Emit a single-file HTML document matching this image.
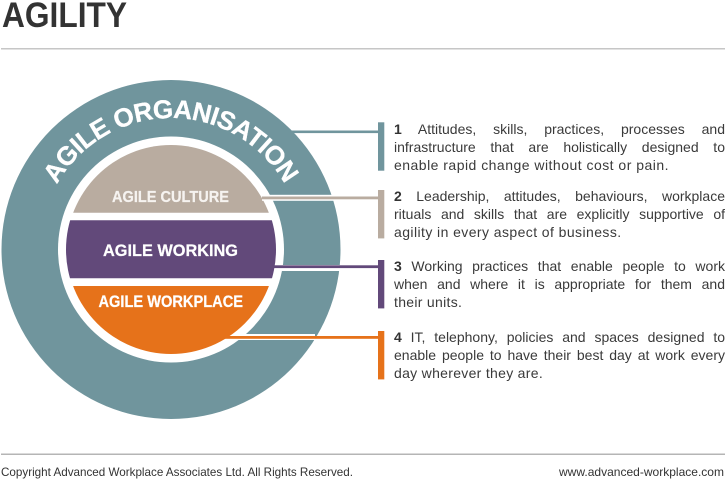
<!DOCTYPE html>
<html><head><meta charset="utf-8"><style>
html,body{margin:0;padding:0;background:#fff;width:725px;height:480px;overflow:hidden}
body{position:relative;font-family:"Liberation Sans",sans-serif}
svg{position:absolute;left:0;top:0}
.l{position:absolute;left:394px;width:331px;height:18px;line-height:18px;font-size:14px;color:#3a3a3a;white-space:nowrap}
.j{text-align:justify;text-align-last:justify;white-space:normal}
b{color:#333}
</style></head><body>
<svg width="725" height="480" viewBox="0 0 725 480" xmlns="http://www.w3.org/2000/svg" font-family="Liberation Sans, sans-serif">
<text x="2" y="27" font-size="35" font-weight="bold" fill="#333" textLength="125" lengthAdjust="spacingAndGlyphs">AGILITY</text>
<rect x="1" y="48" width="724" height="1.5" fill="#c6c6c6"/>
<rect x="1" y="453.5" width="724" height="1.5" fill="#b5b5b5"/>
<circle cx="171" cy="249.5" r="169.5" fill="#70959d"/>
<circle cx="171" cy="249.5" r="113" fill="#fff"/>
<defs>
<clipPath id="a"><rect x="50" y="140" width="240" height="72.7"/></clipPath>
<clipPath id="b"><rect x="50" y="220.3" width="240" height="58"/></clipPath>
<clipPath id="c"><rect x="50" y="286" width="240" height="72"/></clipPath>
<path id="arc" d="M57 184.5 A131 131 0 0 1 285 184.5"/>
</defs>
<circle cx="171" cy="249.5" r="104.5" fill="#b9aca0" clip-path="url(#a)"/>
<circle cx="171" cy="249.5" r="105" fill="#62497a" clip-path="url(#b)"/>
<circle cx="171" cy="249.5" r="104.5" fill="#e6721a" clip-path="url(#c)"/>
<text font-size="26" font-weight="bold" fill="#fff" stroke="#fff" stroke-width=".3"><textPath href="#arc" textLength="276" lengthAdjust="spacing">AGILE ORGANISATION</textPath></text>
<text x="112" y="202" font-size="16" font-weight="bold" fill="#f6f3f0" stroke="#f6f3f0" stroke-width=".25" textLength="117" lengthAdjust="spacingAndGlyphs">AGILE CULTURE</text>
<text x="103" y="256" font-size="17" font-weight="bold" fill="#fff" stroke="#fff" stroke-width=".25" textLength="135" lengthAdjust="spacingAndGlyphs">AGILE WORKING</text>
<text x="98.5" y="307" font-size="17" font-weight="bold" fill="#fff" stroke="#fff" stroke-width=".25" textLength="144.5" lengthAdjust="spacingAndGlyphs">AGILE WORKPLACE</text>
<rect x="291" y="130.5" width="90" height="2.6" fill="#70959d"/>
<rect x="378" y="122.3" width="6.3" height="48.4" fill="#70959d"/>
<rect x="262" y="194.8" width="78.5" height="6" fill="#fff"/>
<rect x="262" y="196.5" width="119" height="2.8" fill="#b9aca0"/>
<rect x="378" y="190" width="6.3" height="48.4" fill="#b9aca0"/>
<rect x="275" y="265" width="64.8" height="6" fill="#fff"/>
<rect x="273" y="265.3" width="108" height="2.8" fill="#62497a"/>
<rect x="378" y="260" width="6.3" height="48.4" fill="#62497a"/>
<rect x="235" y="334" width="80" height="6" fill="#fff"/>
<rect x="225" y="336" width="156" height="2.8" fill="#e6721a"/>
<rect x="378" y="331" width="6.3" height="48.4" fill="#e6721a"/>
<text x="1" y="476" font-size="12" fill="#333" textLength="352" lengthAdjust="spacingAndGlyphs">Copyright Advanced Workplace Associates Ltd. All Rights Reserved.</text>
<text x="559" y="476" font-size="12" fill="#333" textLength="165" lengthAdjust="spacingAndGlyphs">www.advanced-workplace.com</text>
</svg>
<div class="l j" style="top:120px"><b>1</b> Attitudes, skills, practices, processes and</div>
<div class="l j" style="top:138px">infrastructure that are holistically designed to</div>
<div class="l" style="top:156px;letter-spacing:.48px">enable rapid change without cost or pain.</div>
<div class="l j" style="top:187px"><b>2</b> Leadership, attitudes, behaviours, workplace</div>
<div class="l j" style="top:205px">rituals and skills that are explicitly supportive of</div>
<div class="l" style="top:223px;letter-spacing:.42px">agility in every aspect of business.</div>
<div class="l j" style="top:257px"><b>3</b> Working practices that enable people to work</div>
<div class="l j" style="top:275px">when and where it is appropriate for them and</div>
<div class="l" style="top:293px;letter-spacing:.3px">their units.</div>
<div class="l j" style="top:328px"><b>4</b> IT, telephony, policies and spaces designed to</div>
<div class="l j" style="top:346px">enable people to have their best day at work every</div>
<div class="l" style="top:364px;letter-spacing:.3px">day wherever they are.</div>
</body></html>
